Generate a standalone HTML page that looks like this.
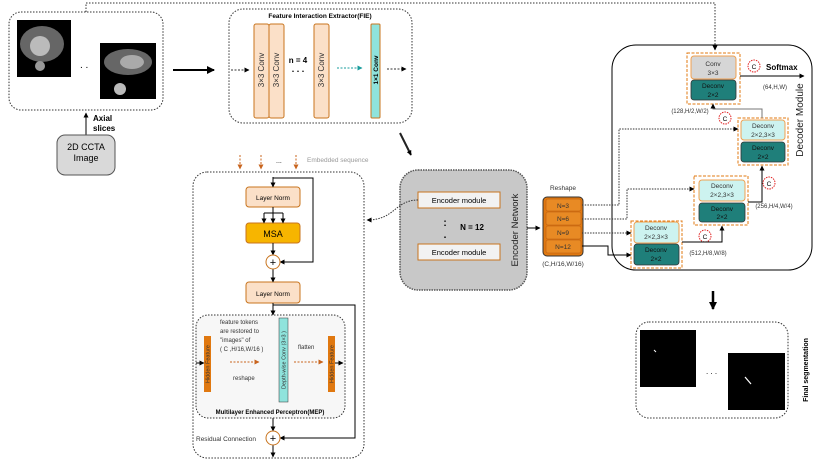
<!DOCTYPE html>
<html><head><meta charset="utf-8"><style>
body{margin:0;background:#fff}
svg{display:block;font-family:"Liberation Sans",sans-serif}
</style></head><body>
<svg width="831" height="462" viewBox="0 0 831 462" xmlns="http://www.w3.org/2000/svg">
<defs>
<marker id="a" markerUnits="userSpaceOnUse" markerWidth="5" markerHeight="5" refX="4.5" refY="2.5" orient="auto"><path d="M0,0L5,2.5L0,5z" fill="#000"/></marker>
<marker id="ab" markerUnits="userSpaceOnUse" markerWidth="8" markerHeight="8" refX="7" refY="4" orient="auto"><path d="M0,0L8,4L0,8z" fill="#000"/></marker>
<marker id="ao" markerUnits="userSpaceOnUse" markerWidth="5" markerHeight="5" refX="4.5" refY="2.5" orient="auto"><path d="M0,0L5,2.5L0,5z" fill="#c8641e"/></marker>
<marker id="at" markerUnits="userSpaceOnUse" markerWidth="5" markerHeight="5" refX="4.5" refY="2.5" orient="auto"><path d="M0,0L5,2.5L0,5z" fill="#1a9c9c"/></marker>
</defs>
<path d="M86,12V3H715V50" fill="none" stroke="#333" stroke-dasharray="1.5,1.5" marker-end="url(#a)"/>
<rect x="9" y="12" width="154" height="98" rx="12" fill="#fff" stroke="#333" stroke-dasharray="1.5,1.5"/>
<rect x="17" y="20" width="54" height="57" fill="#000"/>
<ellipse cx="42" cy="44" rx="22" ry="18" fill="#666"/><circle cx="40" cy="46" r="10" fill="#bbb"/><circle cx="40" cy="66" r="5" fill="#999"/>
<rect x="100" y="43" width="56" height="56" fill="#000"/>
<ellipse cx="128" cy="62" rx="24" ry="13" fill="#666"/><ellipse cx="132" cy="62" rx="12" ry="7" fill="#aaa"/><circle cx="120" cy="89" r="6" fill="#bbb"/>
<text x="80" y="68" font-size="10">. .</text>
<line x1="173" y1="70" x2="214" y2="70" stroke="#000" stroke-width="2" marker-end="url(#ab)"/>
<line x1="86" y1="135" x2="86" y2="113" stroke="#000" marker-end="url(#a)"/>
<text x="93" y="121" font-size="8" font-weight="bold">Axial</text>
<text x="93" y="131" font-size="8" font-weight="bold">slices</text>
<rect x="57" y="135" width="58" height="40" rx="8" fill="#d9d9d9" stroke="#555"/>
<text x="86" y="150" font-size="9" text-anchor="middle">2D CCTA</text>
<text x="86" y="161" font-size="9" text-anchor="middle">Image</text>
<rect x="229" y="9" width="183" height="114" rx="14" fill="#fff" stroke="#333" stroke-dasharray="1.5,1.5"/>
<text x="320" y="18" font-size="6.5" font-weight="bold" text-anchor="middle">Feature Interaction Extractor(FIE)</text>
<g fill="#fbe0c8" stroke="#c8741e">
<rect x="254" y="24" width="15" height="94" rx="2"/><rect x="269" y="24" width="15" height="94" rx="2"/><rect x="314" y="24" width="15" height="94" rx="2"/>
</g>
<rect x="371" y="24" width="9" height="94" rx="1" fill="#8fe3dc" stroke="#c8741e"/>
<g font-size="8" fill="#333" text-anchor="middle">
<text transform="translate(264,70) rotate(-90)">3×3 Conv</text>
<text transform="translate(279,70) rotate(-90)">3×3 Conv</text>
<text transform="translate(324,70) rotate(-90)">3×3 Conv</text>
</g>
<text transform="translate(378,70) rotate(-90)" font-size="6.5" font-weight="bold" text-anchor="middle">1×1 Conv</text>
<text x="298" y="63" font-size="8" font-weight="bold" text-anchor="middle">n = 4</text>
<text x="298" y="72" font-size="9" font-weight="bold" text-anchor="middle">. . .</text>
<line x1="231" y1="70" x2="249" y2="70" stroke="#333" stroke-dasharray="2,1.5" marker-end="url(#a)"/>
<line x1="337" y1="68" x2="362" y2="68" stroke="#1a9c9c" stroke-dasharray="2,1.5" marker-end="url(#at)"/>
<line x1="387" y1="69" x2="406" y2="69" stroke="#333" stroke-dasharray="2,1.5" marker-end="url(#a)"/>
<line x1="400" y1="133" x2="411" y2="155" stroke="#222" stroke-width="2" marker-end="url(#a)"/>
<rect x="400" y="170" width="127" height="120" rx="18" fill="#c8c8c8" stroke="#555" stroke-width="1.5" stroke-dasharray="1.5,1"/>
<rect x="418" y="192" width="82" height="16" fill="#f2f2f2" stroke="#c8741e"/>
<rect x="418" y="244" width="82" height="16" fill="#f2f2f2" stroke="#c8741e"/>
<text x="459" y="203" font-size="7.5" text-anchor="middle">Encoder module</text>
<text x="459" y="255" font-size="7.5" text-anchor="middle">Encoder module</text>
<text x="445" y="226" font-size="10" font-weight="bold" text-anchor="middle">:</text>
<text x="445" y="238" font-size="10" font-weight="bold" text-anchor="middle">.</text>
<text x="472" y="230" font-size="8" font-weight="bold" text-anchor="middle">N = 12</text>
<text transform="translate(518,230) rotate(-90)" font-size="9.5" fill="#222" text-anchor="middle">Encoder Network</text>
<line x1="527" y1="228" x2="540" y2="228" stroke="#000" marker-end="url(#a)"/>
<path d="M418,200C395,200 395,220 367,220" fill="none" stroke="#333" stroke-dasharray="1.5,1.2" marker-end="url(#a)"/>
<g stroke="#c8641e" stroke-dasharray="2,1.5"><line x1="240" y1="155" x2="240" y2="169" marker-end="url(#ao)"/><line x1="261" y1="155" x2="261" y2="169" marker-end="url(#ao)"/><line x1="296" y1="155" x2="296" y2="169" marker-end="url(#ao)"/></g>
<text x="276" y="163" font-size="7">...</text>
<text x="307" y="162" font-size="6.5" fill="#999">Embedded  sequence</text>
<rect x="193" y="172" width="171" height="286" rx="14" fill="#fff" stroke="#333" stroke-dasharray="1.5,1.5"/>
<rect x="246" y="187" width="54" height="20" rx="3" fill="#fbe0c8" stroke="#c8741e"/>
<text x="273" y="200" font-size="6.5" text-anchor="middle">Layer Norm</text>
<rect x="246" y="223" width="54" height="20" rx="3" fill="#f7b500" stroke="#c8741e"/>
<text x="273" y="237" font-size="9" text-anchor="middle">MSA</text>
<rect x="246" y="282" width="54" height="21" rx="3" fill="#fbe0c8" stroke="#c8741e"/>
<text x="273" y="296" font-size="6.5" text-anchor="middle">Layer Norm</text>
<g stroke="#000" fill="none">
<line x1="273" y1="177" x2="273" y2="187" marker-end="url(#a)"/>
<path d="M273,178H313V262H280" marker-end="url(#a)"/>
<line x1="273" y1="207" x2="273" y2="213"/><path d="M264,213H283"/>
<line x1="264" y1="213" x2="264" y2="223" marker-end="url(#a)"/><line x1="273" y1="213" x2="273" y2="223" marker-end="url(#a)"/><line x1="283" y1="213" x2="283" y2="223" marker-end="url(#a)"/>
<line x1="273" y1="243" x2="273" y2="255" marker-end="url(#a)"/>
<line x1="273" y1="269" x2="273" y2="282" marker-end="url(#a)"/>
<line x1="273" y1="303" x2="273" y2="315" marker-end="url(#a)"/>
<path d="M273,305H355V438H280" marker-end="url(#a)"/>
<line x1="273" y1="418" x2="273" y2="431" marker-end="url(#a)"/>
<line x1="273" y1="445" x2="273" y2="457" marker-end="url(#a)"/>
</g>
<circle cx="273" cy="262" r="7" fill="#fff" stroke="#c8741e"/><text x="273" y="266" font-size="11" text-anchor="middle">+</text>
<circle cx="273" cy="438" r="7" fill="#fff" stroke="#c8741e"/><text x="273" y="442" font-size="11" text-anchor="middle">+</text>
<text x="196" y="441" font-size="6.5" fill="#333">Residual Connection</text>
<rect x="196" y="315" width="149" height="103" rx="12" fill="#f7f7f7" stroke="#333" stroke-dasharray="1.5,1.5"/>
<rect x="204" y="336" width="7" height="56" fill="#e07810"/>
<rect x="328" y="336" width="7" height="56" fill="#e07810"/>
<rect x="279" y="318" width="9" height="84" fill="#8fe3dc" stroke="#333" stroke-width="0.5"/>
<g font-size="5.5" fill="#333" text-anchor="middle">
<text transform="translate(209.5,364) rotate(-90)">Hidden Feature</text>
<text transform="translate(333.5,364) rotate(-90)">Hidden Feature</text>
<text transform="translate(285.5,360) rotate(-90)">Depth-wise Conv  (3×3 )</text>
</g>
<g font-size="6" fill="#333">
<text x="220" y="324">feature tokens</text><text x="220" y="333">are restored to</text><text x="220" y="342">"images" of</text><text x="220" y="351">( C ,H/16,W/16 )</text>
<text x="233" y="380">reshape</text><text x="298" y="349">flatten</text>
</g>
<line x1="230" y1="362" x2="259" y2="362" stroke="#c8641e" stroke-dasharray="2,1.5" marker-end="url(#ao)"/>
<line x1="294" y1="362" x2="323" y2="362" stroke="#c8641e" stroke-dasharray="2,1.5" marker-end="url(#ao)"/>
<line x1="196" y1="363" x2="204" y2="363" stroke="#000" marker-end="url(#a)"/>
<line x1="335" y1="363" x2="343" y2="363" stroke="#000" marker-end="url(#a)"/>
<text x="270" y="414" font-size="6" font-weight="bold" text-anchor="middle">Multilayer Enhanced Perceptron(MEP)</text>
<text x="563" y="190" font-size="6.5" fill="#333" text-anchor="middle">Reshape</text>
<rect x="543" y="197" width="40" height="59" rx="4" fill="#e07810" stroke="#333"/>
<g fill="#e88a24" stroke="#b85c10" stroke-width="0.6"><rect x="546" y="199" width="35" height="12" rx="2"/><rect x="546" y="212" width="35" height="13" rx="2"/><rect x="546" y="226" width="35" height="13" rx="2"/><rect x="546" y="240" width="35" height="13" rx="2"/></g>
<g font-size="6.5" fill="#333" text-anchor="middle"><text x="563" y="208">N=3</text><text x="563" y="221">N=6</text><text x="563" y="235">N=9</text><text x="563" y="249">N=12</text></g>
<text x="563" y="266" font-size="6.5" fill="#333" text-anchor="middle">(C,H/16,W/16)</text>
<rect x="612" y="45" width="200" height="225" rx="24" fill="none" stroke="#000"/>
<text transform="translate(803,120) rotate(-90)" font-size="10" fill="#222" text-anchor="middle">Decoder Module</text>
<g fill="none" stroke="#e07810" stroke-dasharray="3,1.5"><rect x="687" y="53" width="53" height="51"/><rect x="738" y="118" width="50" height="47"/><rect x="694" y="176" width="54" height="49"/><rect x="631" y="221" width="51" height="47"/></g>
<g stroke="#f0a050" stroke-width="1">
<rect x="691" y="56" width="45" height="23" rx="3" fill="#d6d6d6"/>
<rect x="741" y="120" width="44" height="20" rx="3" fill="#cdf3f0"/>
<rect x="699" y="180" width="46" height="21" rx="3" fill="#cdf3f0"/>
<rect x="634" y="222" width="45" height="21" rx="3" fill="#cdf3f0"/>
</g>
<g fill="#1f7f7a" stroke="#333" stroke-width="0.8">
<rect x="691" y="80" width="45" height="20" rx="3"/><rect x="741" y="142" width="44" height="20" rx="3"/><rect x="699" y="203" width="46" height="19" rx="3"/><rect x="634" y="244" width="45" height="21" rx="3"/>
</g>
<g font-size="6.5" text-anchor="middle" fill="#333">
<text x="713" y="66">Conv</text><text x="713" y="75">3×3</text>
<text x="763" y="128">Deconv</text><text x="763" y="137">2×2,3×3</text>
<text x="722" y="188">Deconv</text><text x="722" y="197">2×2,3×3</text>
<text x="656" y="230">Deconv</text><text x="656" y="239">2×2,3×3</text>
</g>
<g font-size="6.5" text-anchor="middle" fill="#111">
<text x="713" y="88">Deconv</text><text x="713" y="97">2×2</text>
<text x="763" y="150">Deconv</text><text x="763" y="159">2×2</text>
<text x="722" y="211">Deconv</text><text x="722" y="219">2×2</text>
<text x="656" y="252">Deconv</text><text x="656" y="261">2×2</text>
</g>
<g fill="#fff" stroke="#e02020" stroke-dasharray="1.5,1"><circle cx="754" cy="66" r="6"/><circle cx="725" cy="118" r="6"/><circle cx="769" cy="183" r="6"/><circle cx="705" cy="236" r="6"/></g>
<g font-size="6.5" text-anchor="middle"><text x="754" y="69">C</text><text x="725" y="121">C</text><text x="769" y="186">C</text><text x="705" y="239">C</text></g>
<text x="766" y="70" font-size="8" font-weight="bold">Softmax</text>
<line x1="740" y1="76" x2="804" y2="76" stroke="#000" marker-end="url(#a)"/>
<text x="775" y="89" font-size="6" fill="#333" text-anchor="middle">(64,H,W)</text>
<text x="690" y="113" font-size="6" fill="#333" text-anchor="middle">(128,H/2,W/2)</text>
<text x="774" y="208" font-size="6" fill="#333" text-anchor="middle">(256,H/4,W/4)</text>
<text x="708" y="255" font-size="6" fill="#333" text-anchor="middle">(512,H/8,W/8)</text>
<g fill="none" stroke="#000">
<path d="M682,242H722V226" marker-end="url(#a)"/>
<path d="M748,202H762V166" marker-end="url(#a)"/>
<path d="M762,118V109H713V104" stroke="#777" marker-end="url(#a)"/>
<path d="M582,246H608V255H631" marker-end="url(#a)"/>
</g>
<g fill="none" stroke="#333" stroke-dasharray="1.5,1.2">
<path d="M582,205H619V129H738" marker-end="url(#a)"/>
<path d="M582,219H627V189H694" marker-end="url(#a)"/>
<path d="M582,233H631" marker-end="url(#a)"/>
</g>
<line x1="713" y1="291" x2="713" y2="309" stroke="#000" stroke-width="2.5" marker-end="url(#ab)"/>
<rect x="636" y="322" width="152" height="96" rx="13" fill="#fff" stroke="#333" stroke-dasharray="1.5,1.5"/>
<rect x="640" y="330" width="56" height="57" fill="#000"/>
<rect x="728" y="353" width="57" height="57" fill="#000"/>
<line x1="654" y1="350" x2="656" y2="352" stroke="#fff"/>
<line x1="745" y1="377" x2="751" y2="384" stroke="#fff" stroke-width="1.2"/>
<text x="706" y="374" font-size="8">. . .</text>
<text transform="translate(808,370) rotate(-90)" font-size="7" font-weight="bold" text-anchor="middle">Final segmentation</text>
</svg>
</body></html>
